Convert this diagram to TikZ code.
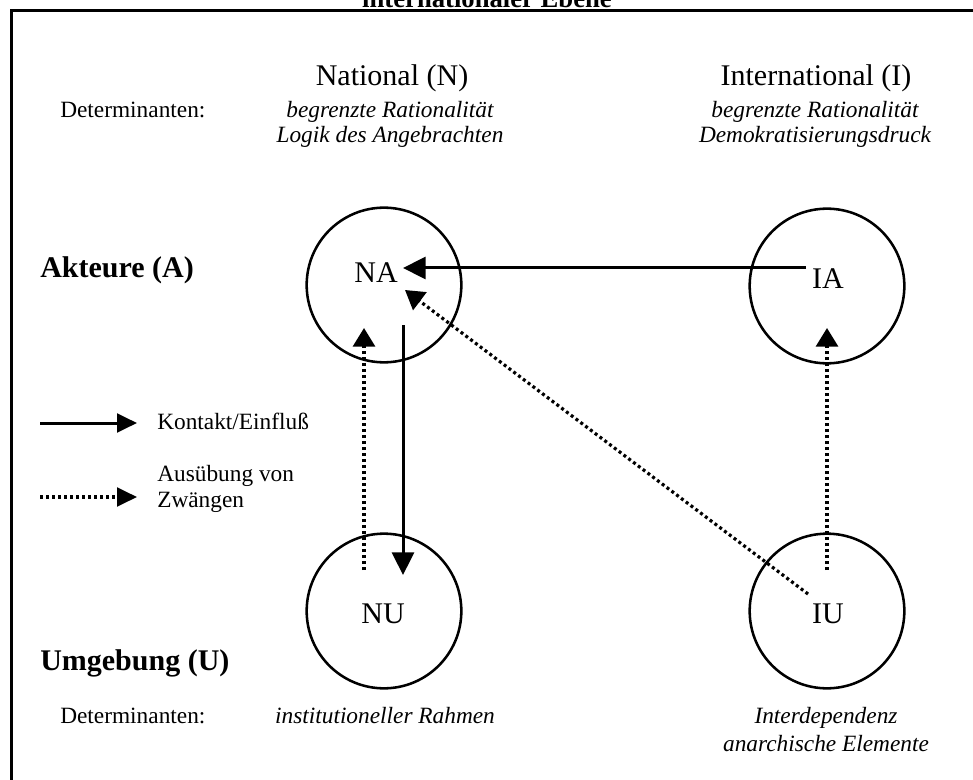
\documentclass[tikz,border=0pt]{standalone}
\usepackage{fontspec}
\setmainfont{Liberation Serif}
\usetikzlibrary{arrows.meta,calc}
\begin{document}
\begin{tikzpicture}[x=0.75pt,y=-0.75pt,
  circ/.style={circle,draw,line width=1.9pt,minimum size=116pt,inner sep=0pt},
  head/.style={font=\fontsize{22.5}{27}\selectfont,anchor=base,inner sep=0pt},
  rowhead/.style={font=\fontsize{22.5}{27}\selectfont\bfseries,anchor=base west,inner sep=0pt},
  small/.style={font=\fontsize{17.5}{21}\selectfont,anchor=base west,inner sep=0pt},
  det/.style={font=\fontsize{17.5}{21}\selectfont\itshape,anchor=base,inner sep=0pt},
  ctext/.style={font=\fontsize{22.5}{27}\selectfont,anchor=base,inner sep=0pt},
  arrsolid/.style={line width=2.25pt,-{Triangle[length=17pt,width=16.5pt]}},
  arrdot/.style={line width=2.4pt,dash pattern=on 2.25pt off 2.25pt,-{Triangle[length=14pt,width=16.5pt]}},
  legsolid/.style={line width=2.25pt,-{Triangle[length=15pt,width=14pt]}},
  legdot/.style={line width=2.4pt,dash pattern=on 2.25pt off 2.25pt,-{Triangle[length=15pt,width=14pt]}}]
\useasboundingbox (0,0) rectangle (973,780);
\clip (0,0) rectangle (973,780);
% frame
\coordinate (fbl) at (11,800);
\coordinate (ftl) at (11,11);
\coordinate (ftr) at (1000,11);
\draw[line width=2.25pt] (fbl) -- (ftl) -- (ftr);
% title (cut off at the top edge, as in the reference)
\node[font=\fontsize{20}{24}\selectfont\bfseries,anchor=base,inner sep=0pt] (title) at (487,8) {internationaler Ebene};
% column heads
\node[head] (colN) at (392,86) {National (N)};
\node[head] (colI) at (816,86) {International (I)};
\node[small] (det1) at (60,118) {Determinanten:};
\node[det] (dN1) at (390,118) {begrenzte Rationalität};
\node[det] (dN2) at (390,143) {Logik des Angebrachten};
\node[det] (dI1) at (815,118) {begrenzte Rationalität};
\node[det] (dI2) at (815,143) {Demokratisierungsdruck};
% row heads
\node[rowhead] (rowA) at (40,278) {Akteure (A)};
\node[rowhead] (rowU) at (40,670) {Umgebung (U)};
% circles
\node[circ] (NA) at (384,285) {};
\node[circ] (NU) at (384,611) {};
\node[circ] (IA) at (827,286) {};
\node[circ] (IU) at (827,611) {};
\node[ctext] (NAt) at (376,282) {NA};
\node[ctext] (NUt) at (383,623) {NU};
\node[ctext] (IAt) at (828,288) {IA};
\node[ctext] (IUt) at (828,623) {IU};
% connectors
\draw[arrsolid] ($(IA)+(-21,-18)$) -- ($(NA)+(19,-17)$);
\draw[arrsolid] ($(NA)+(19,40)$) -- ($(NU)+(19,-36)$);
\draw[arrdot] ($(NU)+(-20,-41)$) -- ($(NA)+(-20,43)$);
\draw[arrdot] ($(IU)+(-19,-17)$) -- ($(NA)+(21,5)$);
\draw[arrdot] ($(IU)+(0,-41)$) -- ($(IA)+(0,42)$);
% legend
\coordinate (l1a) at (40,423);
\coordinate (l1b) at (137,423);
\coordinate (l2a) at (40,497);
\coordinate (l2b) at (137,497);
\draw[legsolid] (l1a) -- (l1b);
\draw[legdot] (l2a) -- (l2b);
\node[small] (leg1) at (157,429) {Kontakt/Einfluß};
\node[small] (leg2a) at (157,481) {Ausübung von};
\node[small] (leg2b) at (157,507) {Zwängen};
% bottom determinants
\node[small] (det2) at (60,723) {Determinanten:};
\node[det] (dNU) at (385,723) {institutioneller Rahmen};
\node[det] (dIU1) at (826,723) {Interdependenz};
\node[det] (dIU2) at (826,751) {anarchische Elemente};
\end{tikzpicture}
\end{document}
